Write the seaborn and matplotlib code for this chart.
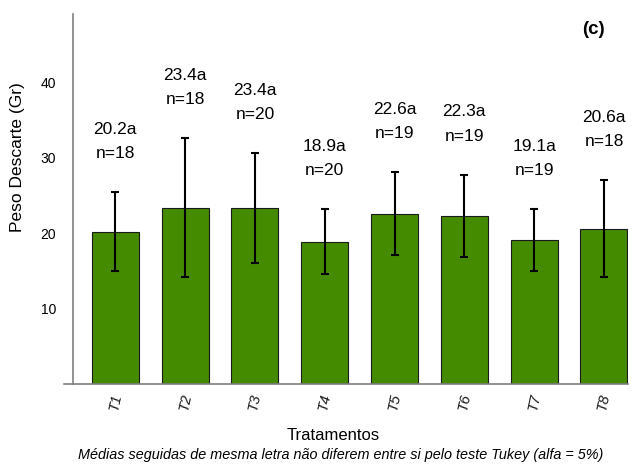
import matplotlib
matplotlib.use("Agg")
import matplotlib.pyplot as plt
import seaborn as sns
import pandas as pd

# Treatment means, standard deviations, sample sizes and Tukey letters
tratamentos = ["T1", "T2", "T3", "T4", "T5", "T6", "T7", "T8"]
medias = [20.2, 23.4, 23.4, 18.9, 22.6, 22.3, 19.1, 20.6]
desvios = [5.25, 9.2, 7.3, 4.35, 5.5, 5.5, 4.1, 6.45]
n_obs = [18, 18, 20, 20, 19, 19, 19, 18]
letras = ["a", "a", "a", "a", "a", "a", "a", "a"]
y_ticks = [10, 20, 30, 40]

sns.set_style("white")
plt.rcParams["font.family"] = ["Liberation Sans", "DejaVu Sans"]
plt.rcParams["text.color"] = "black"
plt.rcParams["xtick.color"] = "black"
plt.rcParams["ytick.color"] = "black"

df = pd.DataFrame({"Tratamento": tratamentos, "Peso": medias})

fig = plt.figure(figsize=(6.32, 4.65), dpi=100)
ax = fig.add_axes([64 / 632, 81 / 465, 564 / 632, 370 / 465])

sns.barplot(data=df, x="Tratamento", y="Peso", color="#458B00", saturation=1,
            width=0.673, edgecolor="#1a1a1a", linewidth=0.8, ax=ax)

ax.errorbar(range(len(medias)), medias, yerr=desvios, fmt="none",
            ecolor="black", elinewidth=1.5, capsize=3, capthick=1.5, zorder=5)

for i, (m, s, n, l) in enumerate(zip(medias, desvios, n_obs, letras)):
    top = m + s
    ax.text(i, top + 5.1, f"n={n}", ha="center", va="center", fontsize=12.5,
            color="black")
    ax.text(i, top + 8.3, f"{m:.1f}{l}", ha="center", va="center", fontsize=12.5,
            color="black")

ax.set_xlim(-0.735, 7.344)
ax.set_ylim(0, 49.1)
ax.set_yticks(y_ticks)
ax.set_yticklabels([str(t) for t in y_ticks], fontsize=11, color="#1a1a1a")

for side in ("top", "right"):
    ax.spines[side].set_visible(False)
ax.spines["left"].set_position(("axes", 9 / 564))
ax.spines["left"].set_color("#7f7f7f")
ax.spines["bottom"].set_color("#7f7f7f")
ax.spines["left"].set_linewidth(1.2)
ax.spines["bottom"].set_linewidth(1.2)
ax.tick_params(axis="y", direction="out", length=9, width=1, color="#7f7f7f", pad=3)
ax.tick_params(axis="x", length=0, pad=6)
for lab in ax.get_xticklabels():
    lab.set_rotation(78)
    lab.set_fontstyle("italic")
    lab.set_fontsize(10.5)
    lab.set_color("#1a1a1a")

ax.set_xlabel("")
ax.set_ylabel("")
fig.text(18 / 632, 1 - 157 / 465, "Peso Descarte (Gr)", rotation=90,
         ha="center", va="center", fontsize=12.5)
fig.text(333 / 632, 1 - 435 / 465, "Tratamentos", ha="center", va="center",
         fontsize=12)
fig.text(341 / 632, 1 - 455 / 465,
         "Médias seguidas de mesma letra não diferem entre si pelo teste Tukey (alfa = 5%)",
         ha="center", va="center", fontsize=10.4, style="italic")
fig.text(593 / 632, 1 - 29 / 465, "(c)", ha="center", va="center",
         fontsize=13.5, fontweight="bold")

fig.savefig("out.png", dpi=100)
